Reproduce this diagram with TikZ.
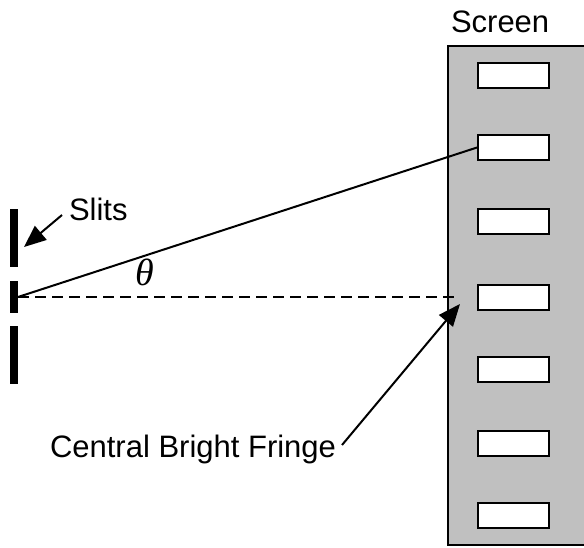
\documentclass[tikz,border=0pt]{standalone}
\usepackage{fontspec}
\setmainfont{Liberation Sans}
\newfontfamily\greekfont{Liberation Serif}
\usetikzlibrary{arrows.meta}
\definecolor{screengray}{RGB}{192,192,192}

\begin{document}
\begin{tikzpicture}[x=1pt, y=-1pt, line width=2pt,
  every node/.style={font=\fontsize{31}{37}\selectfont, inner sep=0pt},
  fringe/.style={draw, fill=white, minimum width=71pt, minimum height=25pt, line width=2pt},
  bigarrow/.style={-{Triangle[length=22pt,width=18pt]}, line width=2pt}]
  \useasboundingbox (0,0) rectangle (584,547);

  % Screen with the bright fringes
  \draw[fill=screengray, line width=2.2pt] (448,46) rectangle (600,545);
  \node[anchor=base west] (screen) at (450,32) {Screen};
  \foreach \y [count=\i] in {75,147.5,221,297.5,369.5,443.5,515}
    \node[fringe] (f\i) at (513.5,\y) {};

  % Slits
  \fill (10,209) rectangle (18,267);
  \fill (10,281) rectangle (18,313);
  \fill (10,326) rectangle (18,384);
  \coordinate (slit) at (18,297);
  \coordinate (centre) at (460,297);

  % Rays from the slit
  \draw (slit) -- (f2.west);
  \draw[dash pattern=on 11pt off 6pt] (slit) -- (centre);
  \node[font=\fontsize{38}{44}\selectfont] (theta) at (145,272) {\greekfont\itshape θ};

  % Labels
  \node[anchor=base west] (slits) at (68,220) {Slits};
  \coordinate (slittip) at (24,247);
  \draw[bigarrow] ([shift={(-6,-5)}]slits.base west) -- (slittip);

  \node[anchor=base west] (fringe) at (49,457) {Central Bright Fringe};
  \coordinate (fringetip) at (460,304);
  \draw[bigarrow] ([shift={(5,-12)}]fringe.base east) -- (fringetip);
\end{tikzpicture}
\end{document}
